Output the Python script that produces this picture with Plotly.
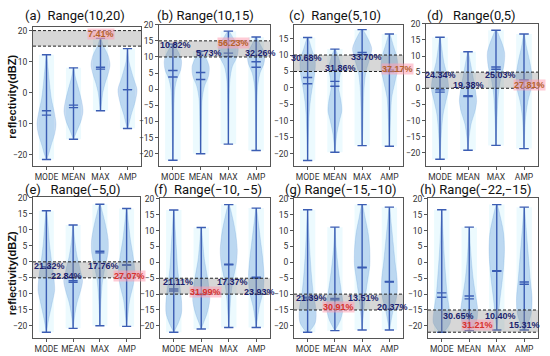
import plotly.graph_objects as go

categories = ["MODE", "MEAN", "MAX", "AMP"]
titles = ["(a)  Range(10,20)", "(b) Range(10,15)", "(c)  Range(5,10)", "(d)   Range(0,5)",
          "(e)   Range(\u22125,0)", "(f)  Range(\u221210, \u22125)", "(g) Range(\u221215,\u221210)",
          "(h) Range(\u221222,\u221215)"]
band_low = [15, 10, 5, 0, -5, -10, -15, -22]
band_high = [20, 15, 10, 5, 0, -5, -10, -15]

v_min = [[-21.5, -15, -5.8, -11.5], [-22, -20, -17, -19], [-22, -19.5, -17.5, -17.7], [-22, -19.2, -17.7, -18.7],
         [-22, -20.8, -20, -20.2], [-22, -21, -20.5, -20.5], [-22, -21.5, -21.3, -21.3], [-22, -21.5, -21.3, -21.3]]
v_max = [[12.2, 8, 17.5, 14.2], [14, 11.8, 18, 16.2], [15.3, 11.8, 17.7, 16.4], [15.8, 11.3, 18, 16.8],
         [16, 11.5, 18, 16.7], [16.5, 11, 18.2, 17.1], [16.6, 11.1, 18.2, 17.4], [16.6, 11.1, 18.2, 17.4]]
v_mean = [[-5.8, -4, 8.2, 1], [5.8, 5.2, 11.2, 8.5], [3.2, 2, 10.8, 5.5], [-0.5, -2.3, 6.6, 2.6],
          [-1.5, -5.9, 3.3, -0.9], [-8.4, -9.8, -0.6, -4.7], [-11, -11.4, -1.5, -6], [-9.6, -10.6, -2.6, -6.2]]
v_median = [[-7.2, -4.8, 7.6, 1], [3.8, 3, 10.2, 6.8], [1.3, 0.5, 10.2, 5], [-1.2, -2.6, 5.9, 2.3],
            [-2.0, -6.4, 2.8, -1.1], [-9, -10.2, -0.8, -5], [-11.5, -11.8, -1.7, -6.2], [-11, -11.5, -2.8, -6.9]]

# violin outlines: (value, relative density)
violin_a = [[(12.2, 0), (8, .16), (3, .32), (-2, .52), (-6, .8), (-10, 1), (-13, .88), (-17, .48), (-20, .2), (-21.5, 0)],
            [(8, 0), (5, .2), (1, .56), (-3, .88), (-6, 1), (-9, .8), (-12, .4), (-15, 0)],
            [(17.5, 0), (15, .32), (12, .8), (9, 1), (6, .8), (3, .48), (0, .24), (-3, .12), (-5.8, 0)],
            [(14.2, 0), (10, .16), (5, .6), (1, 1), (-3, .8), (-7, .4), (-10, .16), (-11.5, 0)]]
violin_b = [[(14, 0), (12, .48), (9, .88), (6, .8), (3, .4), (0, .2), (-5, .12), (-12, .08), (-18, .04), (-22, 0)],
            [(11.8, 0), (10, .48), (7, .88), (4, .8), (1, .4), (-3, .16), (-10, .08), (-16, .04), (-20, 0)],
            [(18, 0), (16, .48), (13, 1), (10, .88), (7, .4), (3, .16), (-3, .08), (-10, .04), (-17, 0)],
            [(16.2, 0), (14, .4), (11, .88), (8, .8), (5, .4), (1, .16), (-5, .08), (-12, .04), (-19, 0)]]
violin_c = [[(15.3, 0), (12, .4), (8, .8), (4, .72), (0, .48), (-4, .28), (-8, .16), (-14, .08), (-22, 0)],
            [(11.8, 0), (9, .4), (6, .64), (3, .48), (0, .4), (-4, .64), (-7, .72), (-10, .48), (-14, .2), (-19.5, 0)],
            [(17.7, 0), (15, .6), (12, 1), (9, .8), (5, .4), (0, .2), (-6, .12), (-12, .08), (-17.5, 0)],
            [(16.4, 0), (13, .4), (9, .8), (6, .88), (2, .6), (-3, .24), (-9, .12), (-17.7, 0)]]
violin_d = [[(15.8, 0), (12, .2), (8, .4), (4, .72), (0, .88), (-4, .6), (-8, .32), (-13, .16), (-22, 0)],
            [(11.3, 0), (8, .24), (4, .48), (0, .72), (-4, .88), (-7, .72), (-11, .32), (-15, .12), (-19.2, 0)],
            [(18, 0), (15, .48), (11, .88), (7, .8), (3, .48), (-2, .24), (-8, .12), (-17.7, 0)],
            [(16.8, 0), (13, .24), (8, .6), (4, .8), (0, .72), (-4, .4), (-9, .16), (-18.7, 0)]]
violin_e = [[(16, 0), (12, .16), (6, .32), (0, .56), (-5, .8), (-9, .88), (-13, .6), (-18, .24), (-22, 0)],
            [(11.5, 0), (7, .16), (2, .4), (-3, .8), (-6, 1), (-9, .8), (-13, .4), (-17, .16), (-20.8, 0)],
            [(18, 0), (15, .32), (11, .64), (7, .88), (3, .88), (-1, .6), (-6, .28), (-12, .12), (-20, 0)],
            [(16.7, 0), (12, .2), (7, .4), (2, .68), (-3, .88), (-7, .72), (-12, .32), (-17, .12), (-20.2, 0)]]
violin_f = [[(16.5, 0), (10, .16), (4, .28), (-2, .4), (-7, .6), (-12, .8), (-16, .8), (-19, .48), (-22, 0)],
            [(11, 0), (6, .16), (1, .32), (-4, .6), (-8, .8), (-12, .88), (-16, .6), (-19, .24), (-21, 0)],
            [(18.2, 0), (14, .4), (9, .72), (4, .88), (0, .8), (-5, .48), (-10, .24), (-15, .12), (-20.5, 0)],
            [(17.1, 0), (12, .24), (6, .48), (1, .68), (-4, .8), (-9, .72), (-14, .32), (-20.5, 0)]]
violin_g = [[(16.6, 0), (10, .12), (3, .24), (-4, .4), (-10, .6), (-15, .88), (-19, .8), (-22, .08)],
            [(11.1, 0), (5, .12), (0, .28), (-5, .48), (-10, .72), (-14, .88), (-18, .6), (-21.5, 0)],
            [(18.2, 0), (14, .32), (9, .64), (4, .8), (-1, .8), (-6, .56), (-12, .28), (-17, .12), (-21.3, 0)],
            [(17.4, 0), (12, .2), (6, .4), (0, .6), (-5, .8), (-10, .8), (-15, .4), (-21.3, 0)]]
violin_h = [[(16.6, 0), (10, .12), (3, .24), (-4, .4), (-10, .56), (-15, .8), (-19, .88), (-22, .16)],
            [(11.1, 0), (5, .12), (0, .24), (-5, .4), (-10, .64), (-15, .88), (-19, .72), (-21.5, .08)],
            [(18.2, 0), (14, .4), (9, .72), (4, .8), (-1, .72), (-6, .56), (-12, .32), (-17, .16), (-21.3, 0)],
            [(17.4, 0), (12, .16), (6, .32), (0, .48), (-6, .64), (-11, .8), (-16, .72), (-21.3, .08)]]
violins = [violin_a, violin_b, violin_c, violin_d, violin_e, violin_f, violin_g, violin_h]

pct_text = [["7.41%"], ["10.82%", "5.73%", "56.23%", "32.26%"], ["30.68%", "31.86%", "33.70%", "37.17%"],
            ["24.34%", "19.38%", "25.03%", "27.81%"], ["21.32%", "22.84%", "17.76%", "27.07%"],
            ["21.11%", "31.99%", "17.37%", "23.93%"], ["21.39%", "30.91%", "13.51%", "20.37%"],
            ["30.65%", "31.21%", "10.40%", "15.31%"]]
pct_x = [[3.0], [1.1, 2.3, 3.2, 4.15], [0.95, 2.2, 3.15, 4.3], [1.0, 2.0, 3.15, 4.2],
         [1.1, 1.75, 3.15, 4.1], [1.15, 2.17, 3.15, 4.12], [1.15, 2.15, 3.05, 4.1], [1.6, 2.3, 3.13, 4.0]]
pct_y = [[19.0], [13.8, 11.2, 14.2, 11.2], [9.0, 6.2, 9.3, 5.9], [4.1, 1.1, 4.1, 1.1],
         [-1.3, -4.4, -1.3, -4.4], [-6.2, -9.2, -6.2, -9.2], [-11.3, -14.2, -11.3, -14.2],
         [-16.9, -19.8, -16.9, -19.8]]
pct_hi = [0, 2, 3, 3, 3, 1, 1, 1]

y_ranges = [[-23.5, 21.1], [-23.7, 20.0], [-23.6, 19.2], [-24.0, 20.0],
            [-23.9, 20.2], [-23.9, 20.2], [-23.9, 20.2], [-23.9, 20.2]]
y_ticks = [[-20, -10, 0, 10, 20]] + [[-20, -15, -10, -5, 0, 5, 10, 15, 20]] * 7

# layout (pixels)
W, H = 550, 356
frames = [(33, 141, 22.5, 163), (159, 270, 20, 163), (294, 403, 20, 163), (426, 538, 19, 163),
          (33, 140, 195, 338), (160, 270, 196, 338), (294, 403, 196, 338), (428, 538, 196, 338)]
title_pos = [(75, 11), (205, 11), (335, 11), (471, 11), (73, 187), (208, 187), (341, 187), (475, 187)]

HALF = 0.35
CAP = 0.17
LINE_C = "#3b5db3"
FILL_C = "rgba(90,150,215,0.33)"
GLOW_C = "rgba(200,242,252,0.35)"
TXT_C = "#1c1f6e"
HI_C = ["#b5622a"] * 4 + ["#d8322c"] * 4
TICKFONT = dict(family="Roboto, Liberation Sans, sans-serif", size=8.5, color="#333")

fig = go.Figure()
shapes = []
annotations = []


def minus(v):
    return str(v).replace("-", "\u2212")


for k in range(8):
    sfx = "" if k == 0 else str(k + 1)
    xa, ya = "x" + sfx, "y" + sfx
    x0, x1, y0, y1 = frames[k]
    fig.layout["xaxis" + sfx] = dict(domain=[x0 / W, x1 / W], anchor=ya, range=[0.5, 4.5],
                                     tickvals=[1, 2, 3, 4], ticktext=categories, showline=True,
                                     mirror=True, linecolor="#555", linewidth=1, ticks="outside",
                                     ticklen=3, tickcolor="#555", showgrid=False, zeroline=False,
                                     tickfont=TICKFONT, tickangle=0, fixedrange=True)
    fig.layout["yaxis" + sfx] = dict(domain=[1 - y1 / H, 1 - y0 / H], anchor=xa, range=y_ranges[k],
                                     tickvals=y_ticks[k], ticktext=[minus(t) for t in y_ticks[k]],
                                     showline=True, mirror=True, linecolor="#555", linewidth=1,
                                     ticks="outside", ticklen=3, tickcolor="#555", showgrid=False,
                                     zeroline=False, tickfont=TICKFONT, fixedrange=True)
    # faint halo behind each violin
    for i in range(4):
        shapes.append(dict(type="rect", xref=xa, yref=ya, x0=i + 1 - 0.28, x1=i + 1 + 0.28,
                           y0=v_min[k][i], y1=v_max[k][i], fillcolor=GLOW_C, line=dict(width=0),
                           layer="below"))
    # violin bodies
    for i, prof in enumerate(violins[k]):
        pos = i + 1
        ys = [p[0] for p in prof]
        ds = [p[1] * HALF for p in prof]
        px = [pos + d for d in ds] + [pos - d for d in reversed(ds)]
        py = ys + list(reversed(ys))
        fig.add_trace(go.Scatter(x=px, y=py, xaxis=xa, yaxis=ya, mode="lines", fill="toself",
                                 fillcolor=FILL_C, line=dict(color="rgba(90,150,215,0.45)", width=0.5,
                                                             shape="spline", smoothing=0.8),
                                 hoverinfo="skip", showlegend=False))
    # whisker lines
    lx, ly = [], []
    for i in range(4):
        pos = i + 1
        lx += [pos, pos, None]
        ly += [v_min[k][i], v_max[k][i], None]
        for v in (v_min[k][i], v_max[k][i], v_mean[k][i], v_median[k][i]):
            lx += [pos - CAP, pos + CAP, None]
            ly += [v, v, None]
    fig.add_trace(go.Scatter(x=lx, y=ly, xaxis=xa, yaxis=ya, mode="lines",
                             line=dict(color=LINE_C, width=1.4), hoverinfo="skip", showlegend=False))
    # band
    shapes.append(dict(type="rect", xref=xa + " domain", yref=ya, x0=0, x1=1,
                       y0=band_low[k], y1=band_high[k], fillcolor="rgba(140,140,140,0.35)",
                       line=dict(width=0), layer="above"))
    for yv in (band_low[k], band_high[k]):
        shapes.append(dict(type="line", xref=xa + " domain", yref=ya, x0=0, x1=1, y0=yv, y1=yv,
                           line=dict(color="#222", width=1, dash="3px,2px"), layer="above"))
    # percentages
    for j, t in enumerate(pct_text[k]):
        hi = j == pct_hi[k]
        annotations.append(dict(x=pct_x[k][j], y=pct_y[k][j], xref=xa, yref=ya, text="<b>%s</b>" % t,
                                showarrow=False, borderpad=0, xanchor="center", yanchor="middle",
                                bgcolor="rgba(255,160,180,0.55)" if hi else None,
                                font=dict(family="Liberation Sans, Arial, sans-serif", size=9,
                                          color=HI_C[k] if hi else TXT_C)))
    # title
    tx, ty = title_pos[k]
    annotations.append(dict(x=tx / W, y=1 - ty / H, xref="paper", yref="paper", text=titles[k],
                            xanchor="center", yanchor="middle", showarrow=False, borderpad=0,
                            font=dict(family="Roboto, Liberation Sans, sans-serif", size=13, color="#111")))

for cy in (93, 272):
    annotations.append(dict(x=12 / W, y=1 - cy / H, xref="paper", yref="paper",
                            text="<b>reflectivity(dBZ)</b>", textangle=-90, showarrow=False,
                            xanchor="center", yanchor="middle",
                            font=dict(family="Liberation Sans, Arial, sans-serif", size=11, color="#111")))

fig.update_layout(width=W, height=H, margin=dict(l=0, r=0, t=0, b=0), paper_bgcolor="white",
                  plot_bgcolor="white", shapes=shapes, annotations=annotations, showlegend=False)
fig.write_html("out.html", config={"displayModeBar": False},
               post_script="document.body.style.margin='0';")
